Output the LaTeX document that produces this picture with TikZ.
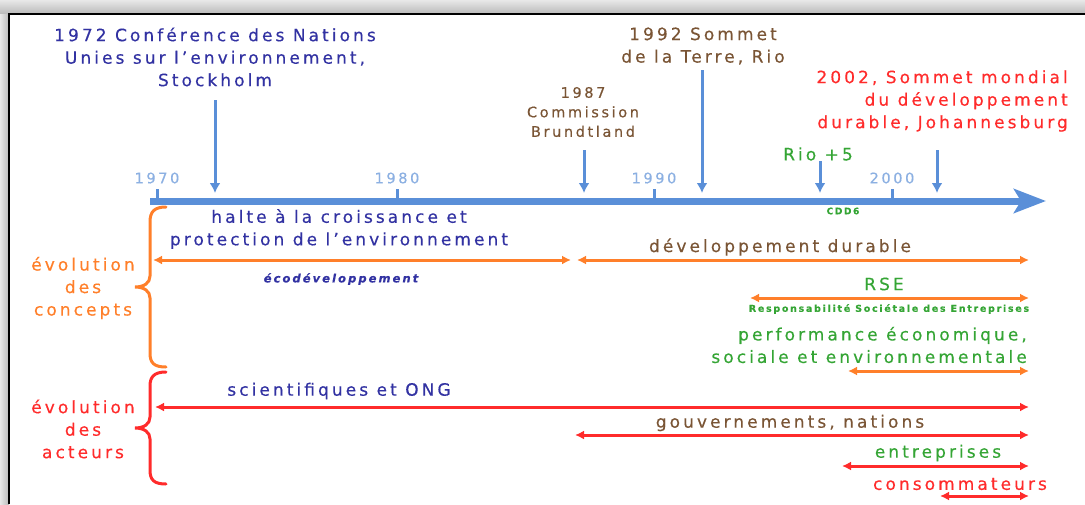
\documentclass[tikz,border=0pt]{standalone}
\usepackage{fontspec}
\setmainfont{DejaVu Sans}[LetterSpace=18, FakeBold=0.4]
\usetikzlibrary{arrows.meta}
\definecolor{navy}{HTML}{3232A2}
\definecolor{brownish}{HTML}{7A5535}
\definecolor{redish}{HTML}{FF2B2B}
\definecolor{greenish}{HTML}{35A535}
\definecolor{orangeish}{HTML}{FF7F2A}
\definecolor{axisblue}{HTML}{5A8FD8}
\definecolor{ticklabel}{HTML}{8CB0E2}
\begin{document}
\begin{tikzpicture}[x=1pt,y=-1pt,
  lbl/.style={inner sep=0pt, align=center},
  big/.style={font=\fontsize{17}{22.5}\selectfont},
  mid/.style={font=\fontsize{14.5}{19.5}\selectfont},
  yearlbl/.style={lbl, font=\fontsize{14.5}{16}\selectfont, text=ticklabel},
  event/.style={draw=axisblue, line width=3pt, -{Latex[length=10pt,width=11pt]}},
  tick/.style={draw=axisblue, line width=3pt},
  span/.style={line width=3pt, {Latex[length=9pt,width=9pt]}-{Latex[length=9pt,width=9pt]}},
  brace/.style={line width=3pt, line cap=round}]
\useasboundingbox (0,0) rectangle (1085,504);

% shadow around the frame
\shade[top color=gray!18, bottom color=gray!55] (0,0) rectangle (1085,14);
\shade[left color=gray!18, right color=gray!55] (0,14) rectangle (9,504);
\draw[line width=2.5pt] (9,504) -- (9,14) -- (1085,14);

% time axis
\coordinate (axL) at (150,201);
\coordinate (axR) at (1046,201);
\draw[axisblue, line width=7pt, -{Stealth[length=32pt,width=24pt,inset=7pt]}] (axL) -- (axR);

% ticks and years
\foreach \n/\xx in {1970/157, 1980/397, 1990/654, 2000/892} {
  \coordinate (t\n) at (\xx,201);
  \coordinate (tt\n) at (\xx,189);
  \draw[tick] (t\n) -- (tt\n);
  \node[yearlbl] (y\n) at (\xx,178) {\n};
}

% events
\node[lbl, big, text=navy] (ev72) at (215,57) {1972 Conférence des Nations\\Unies sur l’environnement,\\Stockholm};
\node[lbl, big, text=brownish] (ev92) at (703,46) {1992 Sommet\\de la Terre, Rio};
\node[lbl, mid, text=brownish] (ev87) at (583,112) {1987\\Commission\\Brundtland};
\node[lbl, big, text=redish, align=right, anchor=east] (ev02) at (1068,101) {2002, Sommet mondial\\du développement\\durable, Johannesburg};
\node[lbl, big, text=greenish] (rio5) at (818,154) {Rio +5};
\node[lbl, font=\fontsize{9}{10}\bfseries, text=greenish] (cdd6) at (843,211) {CDD6};

\coordinate (a72t) at (215,100);  \coordinate (a72b) at (215,193);
\coordinate (a87t) at (584,150);  \coordinate (a87b) at (584,193);
\coordinate (a92t) at (702,70);   \coordinate (a92b) at (702,193);
\coordinate (a97t) at (820,161);  \coordinate (a97b) at (820,193);
\coordinate (a02t) at (937,150);  \coordinate (a02b) at (937,193);
\draw[event] (a72t) -- (a72b);
\draw[event] (a87t) -- (a87b);
\draw[event] (a92t) -- (a92b);
\draw[event] (a97t) -- (a97b);
\draw[event] (a02t) -- (a02b);

% braces
\draw[brace, orangeish] (166,207) .. controls (154,207) and (150,212) .. (150,222)
  -- (150,276) .. controls (150,283) and (144,287) .. (135,287)
  .. controls (144,287) and (150,291) .. (150,298)
  -- (150,353) .. controls (150,363) and (154,367) .. (166,367);
\draw[brace, redish] (166,372) .. controls (154,372) and (150,377) .. (150,386)
  -- (150,417) .. controls (150,424) and (144,428) .. (135,428)
  .. controls (144,428) and (150,432) .. (150,439)
  -- (150,470) .. controls (150,480) and (154,484) .. (166,484);
\node[lbl, big, text=orangeish] (evc) at (83,288) {évolution\\des\\concepts};
\node[lbl, big, text=redish] (eva) at (83,429) {évolution\\des\\acteurs};

% concepts
\node[lbl, big, text=navy] (halte) at (339,229) {halte à la croissance et\\protection de l’environnement};
\coordinate (c1L) at (153,260); \coordinate (c1R) at (571,260);
\draw[span, orangeish] (c1L) -- (c1R);
\node[lbl, font=\fontsize{11.5}{12}\itshape\bfseries, text=navy] (eco) at (341,279) {écodéveloppement};

\node[lbl, big, text=brownish] (dd) at (780,247) {développement durable};
\coordinate (c2L) at (577,260); \coordinate (c2R) at (1029,260);
\draw[span, orangeish] (c2L) -- (c2R);

\node[lbl, big, text=greenish] (rse) at (884,284) {RSE};
\coordinate (c3L) at (750,298); \coordinate (c3R) at (1029,298);
\draw[span, orangeish] (c3L) -- (c3R);
\node[lbl, font=\fontsize{9.5}{10}\bfseries, text=greenish] (rsefull) at (889,309) {Responsabilité Sociétale des Entreprises};

\node[lbl, big, text=greenish, align=right, anchor=east] (perf) at (1027,345) {performance économique,\\sociale et environnementale};
\coordinate (c4L) at (848,371); \coordinate (c4R) at (1029,371);
\draw[span, orangeish] (c4L) -- (c4R);

% actors
\node[lbl, big, text=navy] (sci) at (339,391) {scientifiques et ONG};
\coordinate (r1L) at (155,407); \coordinate (r1R) at (1029,407);
\draw[span, redish] (r1L) -- (r1R);

\node[lbl, big, text=brownish] (gouv) at (790,423) {gouvernements, nations};
\coordinate (r2L) at (575,435); \coordinate (r2R) at (1029,435);
\draw[span, redish] (r2L) -- (r2R);

\node[lbl, big, text=greenish] (entr) at (938,453) {entreprises};
\coordinate (r3L) at (842,466); \coordinate (r3R) at (1029,466);
\draw[span, redish] (r3L) -- (r3R);

\node[lbl, big, text=redish] (cons) at (960,484) {consommateurs};
\coordinate (r4L) at (940,496); \coordinate (r4R) at (1029,496);
\draw[span, redish] (r4L) -- (r4R);
\end{tikzpicture}
\end{document}
